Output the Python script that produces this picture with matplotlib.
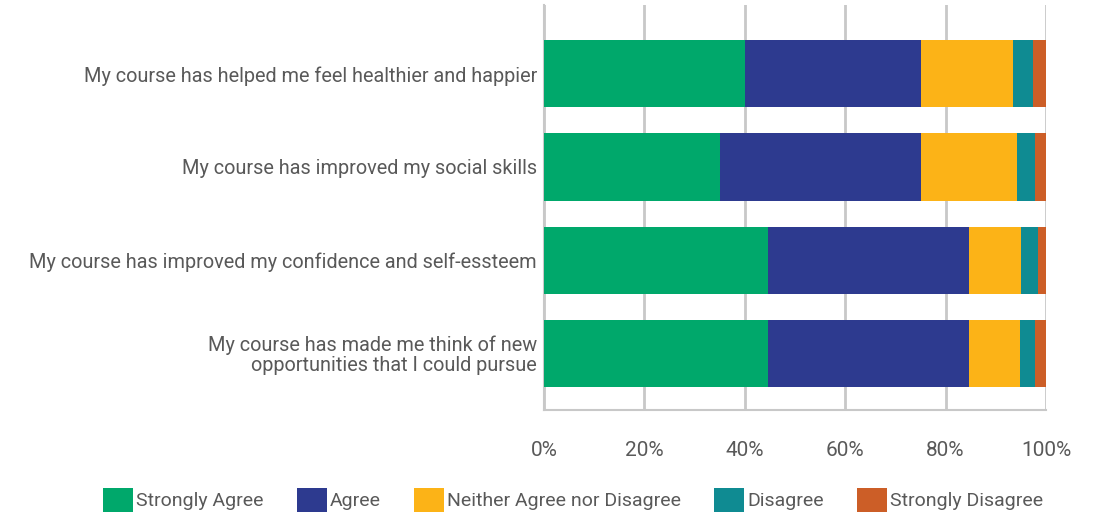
import matplotlib
matplotlib.use("Agg")
import matplotlib.pyplot as plt
from matplotlib.patches import Patch
from matplotlib.ticker import PercentFormatter

plt.rcParams['font.family'] = ['Roboto', 'DejaVu Sans']

statements = [
    "My course has helped me feel healthier and happier",
    "My course has improved my social skills",
    "My course has improved my confidence and self-essteem",
    "My course has made me think of new\nopportunities that I could pursue",
]
responses = ["Strongly Agree", "Agree", "Neither Agree nor Disagree",
             "Disagree", "Strongly Disagree"]
strongly_agree = [40.0, 35.0, 44.6, 44.6]
agree = [35.0, 40.0, 40.1, 40.1]
neither = [18.4, 19.2, 10.3, 10.1]
disagree = [4.0, 3.6, 3.4, 3.1]
strongly_disagree = [2.6, 2.2, 1.6, 2.1]

colors = ["#00A86B", "#2D3A8F", "#FCB317", "#0F8B92", "#CC5E27"]
series = [strongly_agree, agree, neither, disagree, strongly_disagree]

fig = plt.figure(figsize=(11, 5.17), dpi=100)
ax = fig.add_axes([544 / 1100, 107 / 517, 502 / 1100, 405 / 517])

ypos = list(range(len(statements)))
left = [0.0] * len(statements)
for vals, col, name in zip(series, colors, responses):
    ax.barh(ypos, vals, left=left, height=0.72, color=col, label=name, zorder=3)
    left = [l + v for l, v in zip(left, vals)]

ax.set_xlim(0, 100)
ax.set_ylim(3.61, -0.74)
ax.set_xticks([0, 20, 40, 60, 80, 100])
ax.xaxis.set_major_formatter(PercentFormatter(decimals=0))
ax.set_yticks(ypos)
ax.set_yticklabels(statements, ha='right', multialignment='right', linespacing=1.05)
ax.tick_params(axis='y', length=0, pad=5, labelsize=14.3, labelcolor='#595959')
ax.tick_params(axis='x', length=0, pad=22, labelsize=15, labelcolor='#595959')

ax.grid(axis='x', color='#C8C8C8', linewidth=2, zorder=0)
for s in ['top', 'right']:
    ax.spines[s].set_visible(False)
for s in ['left', 'bottom']:
    ax.spines[s].set_color('#C8C8C8')
    ax.spines[s].set_linewidth(1.5)

handles = [Patch(facecolor=c, edgecolor='none') for c in colors]
fig.legend(handles, responses, loc='center', bbox_to_anchor=(573 / 1100, 1 - 500 / 517),
           ncol=5, frameon=False, fontsize=14, labelcolor='#595959',
           handlelength=1.55, handleheight=1.55, handletextpad=0.15,
           columnspacing=1.7)

fig.savefig("out.png", dpi=100)
